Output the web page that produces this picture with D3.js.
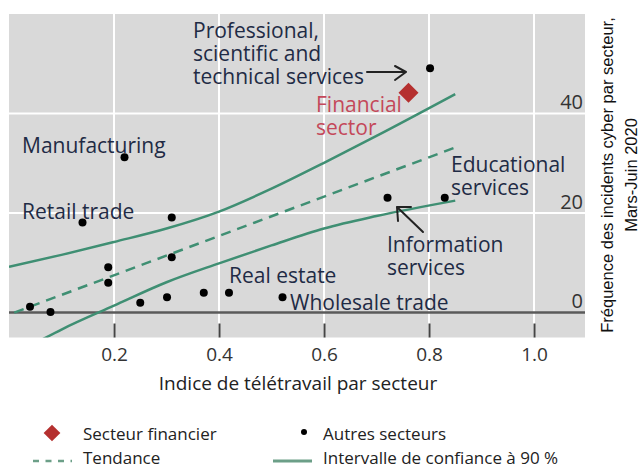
<!DOCTYPE html>
<html>
<head>
<meta charset="utf-8">
<script src="https://cdn.jsdelivr.net/npm/d3@7"></script>
<style>
  body { margin: 0; background: #fff; }
  text { font-family: "Open Sans", "Noto Sans", sans-serif; }
</style>
</head>
<body>
<svg width="640" height="468"></svg>
<script>
// telework index (x) vs cyber incidents (y), one dot per sector
var sectorX = [0.040, 0.079, 0.140, 0.220, 0.189, 0.189, 0.250, 0.301, 0.310, 0.310, 0.371, 0.419, 0.521, 0.721, 0.830, 0.802];
var sectorY = [1.2, 0.1, 18.1, 31.2, 9.1, 6.0, 2.0, 3.1, 19.1, 11.1, 4.0, 4.0, 3.1, 23.1, 23.1, 49.1];
var financeX = [0.761];
var financeY = [44.2];

// fitted trend and 90% band
var trendX = [0.01, 0.853];
var trendY = [0.0, 33.3];
var upperX = [0, 0.1, 0.2, 0.3, 0.4, 0.5, 0.6, 0.7, 0.85];
var upperY = [9.2, 11.6, 14.2, 16.9, 20.3, 24.9, 30.1, 35.5, 43.9];
var lowerX = [0.065, 0.1, 0.2, 0.3, 0.4, 0.5, 0.6, 0.7, 0.85];
var lowerY = [-5.3, -3.4, 1.4, 6.1, 9.9, 13.5, 16.9, 19.4, 22.5];

var xTicks = [0.2, 0.4, 0.6, 0.8, 1.0];
var xTickLabels = ["0.2", "0.4", "0.6", "0.8", "1.0"];
var yTicks = [0, 20, 40];

var svg = d3.select("svg");
var green = "#3f8f73", ink = "#1f2b45";

var x = d3.scaleLinear().domain([0, 1.1]).range([9, 586.5]);
var y = d3.scaleLinear().domain([-5, 60]).range([337.5, 14]);

var pLeft = x(0), pRight = 585, pTop = y(60), pBottom = y(-5);

svg.append("defs").append("clipPath").attr("id", "plot")
  .append("rect").attr("x", pLeft).attr("y", pTop)
  .attr("width", pRight - pLeft).attr("height", pBottom - pTop);

svg.append("rect")
  .attr("x", pLeft).attr("y", pTop)
  .attr("width", pRight - pLeft).attr("height", pBottom - pTop)
  .attr("fill", "#d9d9d9");

// grid
svg.append("g").selectAll("line").data(xTicks).enter().append("line")
  .attr("x1", d => x(d)).attr("x2", d => x(d))
  .attr("y1", pTop).attr("y2", pBottom)
  .attr("stroke", "#fff").attr("stroke-width", 2);
svg.append("g").selectAll("line").data(yTicks.filter(d => d > 0)).enter().append("line")
  .attr("x1", pLeft - 2).attr("x2", pRight)
  .attr("y1", d => y(d)).attr("y2", d => y(d))
  .attr("stroke", "#fff").attr("stroke-width", 2);

svg.append("line")
  .attr("x1", pLeft).attr("x2", pRight)
  .attr("y1", y(0)).attr("y2", y(0))
  .attr("stroke", "#5a5a5a").attr("stroke-width", 2.5);

// x axis: ticks sit inside the grey band below zero
var xAxis = svg.append("g")
  .attr("transform", "translate(0," + (pBottom - 14) + ")")
  .call(d3.axisBottom(x).tickValues(xTicks)
    .tickFormat((d, i) => xTickLabels[i]).tickSize(14).tickPadding(10));
xAxis.select(".domain").remove();
xAxis.selectAll("line").attr("stroke", "#444").attr("stroke-width", 2);
xAxis.selectAll("text").attr("font-size", "19px").attr("fill", "#333")
  .style("font-family", "'Open Sans', sans-serif");

// y axis labels on the right, sitting above the grid line
var yAxis = svg.append("g")
  .attr("transform", "translate(" + pRight + ",0)")
  .call(d3.axisLeft(y).tickValues(yTicks).tickSize(0).tickPadding(2));
yAxis.select(".domain").remove();
yAxis.selectAll("text").attr("dy", null).attr("y", -5)
  .attr("font-size", "20px").attr("fill", "#333")
  .style("font-family", "'Open Sans', sans-serif");

// band and trend
var line = d3.line().x(d => x(d[0])).y(d => y(d[1])).curve(d3.curveMonotoneX);
var lines = svg.append("g").attr("clip-path", "url(#plot)").attr("fill", "none");
lines.append("path").attr("d", line(d3.zip(upperX, upperY)))
  .attr("stroke", green).attr("stroke-width", 2.5);
lines.append("path").attr("d", line(d3.zip(lowerX, lowerY)))
  .attr("stroke", green).attr("stroke-width", 2.5);
lines.append("path").attr("d", line(d3.zip(trendX, trendY)))
  .attr("stroke", green).attr("stroke-width", 2.5).attr("stroke-dasharray", "10,7");

// dots
svg.append("g").selectAll("circle").data(d3.zip(sectorX, sectorY)).enter().append("circle")
  .attr("cx", d => x(d[0])).attr("cy", d => y(d[1])).attr("r", 4).attr("fill", "#000");

svg.append("g").selectAll("path").data(d3.zip(financeX, financeY)).enter().append("path")
  .attr("d", d3.symbol().type(d3.symbolSquare).size(200))
  .attr("transform", d => "translate(" + x(d[0]) + "," + y(d[1]) + ") rotate(45)")
  .attr("fill", "#b5302f");

// annotations
var notes = [
  { lines: ["Professional,", "scientific and", "technical services"], x: 193, y: 38, fill: ink },
  { lines: ["Financial", "sector"], x: 316, y: 112, fill: "#c4485a" },
  { lines: ["Manufacturing"], x: 22, y: 153, fill: ink },
  { lines: ["Retail trade"], x: 22, y: 219, fill: ink },
  { lines: ["Educational", "services"], x: 451, y: 172, fill: ink },
  { lines: ["Information", "services"], x: 387, y: 252, fill: ink },
  { lines: ["Real estate"], x: 229, y: 283, fill: ink },
  { lines: ["Wholesale trade"], x: 290, y: 310, fill: ink }
];
var noteText = svg.append("g").selectAll("text").data(notes).enter().append("text")
  .attr("x", d => d.x).attr("y", d => d.y)
  .attr("font-size", "21px").attr("fill", d => d.fill);
noteText.selectAll("tspan").data(d => d.lines.map(t => ({ t: t, x: d.x }))).enter().append("tspan")
  .attr("x", d => d.x).attr("dy", (d, i) => i ? 23 : 0).text(d => d.t);

var arrows = svg.append("g").attr("fill", "none").attr("stroke", "#222")
  .attr("stroke-width", 2).attr("stroke-linecap", "round").attr("stroke-linejoin", "round");
arrows.append("path").attr("d", "M367,72 L405,72 M395,66 L406,72 L395,80");
arrows.append("path").attr("d", "M423,232 L397,207 M411,207 L397,207 L398,221");

// axis titles
svg.append("text").attr("x", 298).attr("y", 390).attr("text-anchor", "middle")
  .attr("font-size", "19px").attr("fill", "#222").text("Indice de télétravail par secteur");

var yTitle = svg.append("text")
  .attr("transform", "translate(619,175) rotate(-90)")
  .attr("text-anchor", "middle").attr("font-size", "16.5px").attr("fill", "#111")
  .style("font-family", "'Liberation Sans Narrow', 'Arial Narrow', sans-serif");
yTitle.append("tspan").attr("x", 0).attr("y", -6).text("Fréquence des incidents cyber par secteur,");
yTitle.append("tspan").attr("x", 0).attr("y", 18).text("Mars-Juin 2020");

// legend
var legend = svg.append("g").attr("font-size", "17px").attr("fill", "#222");
legend.append("path").attr("d", d3.symbol().type(d3.symbolSquare).size(140))
  .attr("transform", "translate(52,433) rotate(45)").attr("fill", "#b5302f");
legend.append("text").attr("x", 83).attr("y", 440).text("Secteur financier");
legend.append("circle").attr("cx", 304).attr("cy", 432).attr("r", 3).attr("fill", "#000");
legend.append("text").attr("x", 323).attr("y", 440).text("Autres secteurs");
legend.append("line").attr("x1", 33).attr("x2", 72).attr("y1", 461).attr("y2", 461)
  .attr("stroke", "#6c9f88").attr("stroke-width", 2.5).attr("stroke-dasharray", "6,6.5");
legend.append("text").attr("x", 83).attr("y", 464).text("Tendance");
legend.append("line").attr("x1", 273).attr("x2", 312).attr("y1", 461).attr("y2", 461)
  .attr("stroke", "#6c9f88").attr("stroke-width", 3);
legend.append("text").attr("x", 323).attr("y", 464).text("Intervalle de confiance à 90 %");
</script>
</body>
</html>
